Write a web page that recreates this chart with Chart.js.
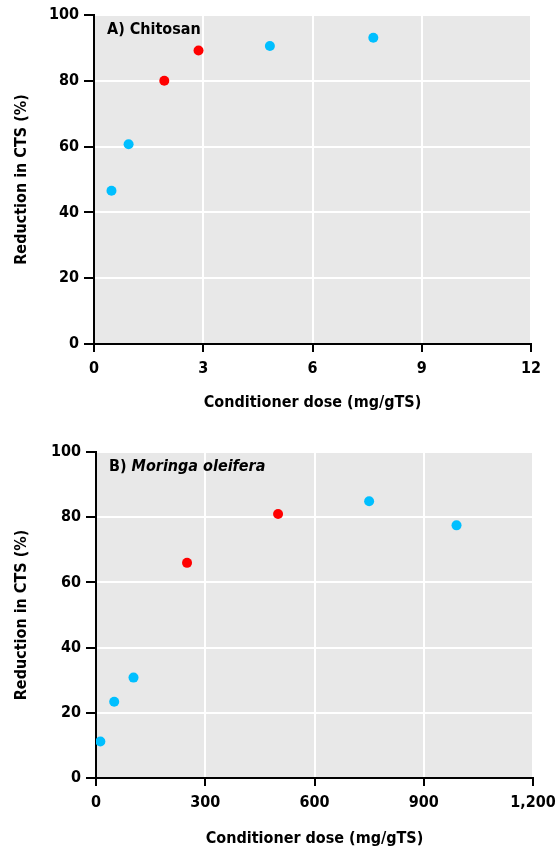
<!DOCTYPE html>
<html>
<head>
<meta charset="utf-8">
<script src="https://cdn.jsdelivr.net/npm/chart.js@4.4.0/dist/chart.umd.min.js"></script>
<style>
  html, body { margin: 0; padding: 0; background: #fff; }
  #wrapA { position: absolute; left: 0; top: 0; width: 558px; height: 420px; }
  #wrapB { position: absolute; left: 0; top: 437px; width: 558px; height: 413px; }
</style>
</head>
<body>
<div id="wrapA"><canvas id="chartA"></canvas></div>
<div id="wrapB"><canvas id="chartB"></canvas></div>
<script>
// Panel A: Chitosan
const chitosanDose = [0.48, 0.95, 1.93, 2.87, 4.83, 7.67];
const chitosanReduction = [46.6, 60.7, 80.0, 89.2, 90.6, 93.1];
const chitosanColors = ['#00bfff', '#00bfff', '#ff0000', '#ff0000', '#00bfff', '#00bfff'];
const chitosanXTicks = [0, 3, 6, 9, 12];

// Panel B: Moringa oleifera
const moringaDose = [12, 50, 103, 250, 500, 750, 990];
const moringaReduction = [11.2, 23.4, 30.8, 66.0, 81.0, 84.9, 77.5];
const moringaColors = ['#00bfff', '#00bfff', '#00bfff', '#ff0000', '#ff0000', '#00bfff', '#00bfff'];
const moringaXTicks = [0, 300, 600, 900, 1200];

const yTicks = [0, 20, 40, 60, 80, 100];
const xTitle = 'Conditioner dose (mg/gTS)';
const yTitle = 'Reduction in CTS (%)';

const FONT = '"DejaVu Sans Condensed", "DejaVu Sans", sans-serif';

const bgPlugin = {
  id: 'plotBg',
  beforeDraw(chart) {
    const { ctx, chartArea: a } = chart;
    ctx.save();
    ctx.fillStyle = '#e8e8e8';
    ctx.fillRect(a.left, a.top, a.right - a.left, a.bottom - a.top);
    ctx.restore();
  }
};

function labelPlugin(parts) {
  return {
    id: 'panelLabel',
    afterDraw(chart) {
      const { ctx, chartArea: a } = chart;
      ctx.save();
      ctx.fillStyle = '#000';
      ctx.textBaseline = 'middle';
      let x = a.left + 13;
      const y = a.top + 15;
      parts.forEach(p => {
        ctx.font = (p.italic ? 'italic ' : '') + 'bold 16px ' + FONT;
        ctx.fillText(p.text, x, y);
        x += ctx.measureText(p.text).width;
      });
      ctx.restore();
    }
  };
}

function makeChart(id, xs, ys, colors, xTicks, parts, yAxisWidth, xAxisHeight, xTitlePadBottom, rightPad) {
  const points = xs.map((x, i) => ({ x, y: ys[i] }));
  return new Chart(document.getElementById(id), {
    type: 'scatter',
    data: {
      datasets: [{
        data: points,
        pointBackgroundColor: colors,
        pointBorderWidth: 0,
        pointRadius: 5,
        pointHoverRadius: 5
      }]
    },
    options: {
      responsive: true,
      maintainAspectRatio: false,
      animation: false,
      events: [],
      layout: { padding: { top: 15, right: rightPad, left: 0, bottom: 0 } },
      plugins: { legend: { display: false }, tooltip: { enabled: false } },
      scales: {
        x: {
          type: 'linear',
          min: xTicks[0],
          max: xTicks[xTicks.length - 1],
          afterFit(scale) {
            scale.height = xAxisHeight;
            scale.paddingLeft = 0;
            scale.paddingRight = 0;
          },
          afterBuildTicks(scale) { scale.ticks = xTicks.map(v => ({ value: v })); },
          ticks: {
            color: '#000',
            font: { family: FONT, weight: 'bold', size: 16 },
            padding: 7,
            maxRotation: 0,
            callback: v => v.toLocaleString('en-US')
          },
          grid: {
            color: '#ffffff',
            lineWidth: 2,
            tickColor: '#000',
            tickLength: 8,
            tickWidth: 2
          },
          border: { color: '#000', width: 2 },
          title: {
            display: true,
            text: xTitle,
            color: '#000',
            font: { family: FONT, weight: 'bold', size: 16 },
            padding: { top: 0, bottom: xTitlePadBottom }
          }
        },
        y: {
          type: 'linear',
          min: 0,
          max: 100,
          afterFit(scale) { scale.width = yAxisWidth; },
          afterBuildTicks(scale) { scale.ticks = yTicks.map(v => ({ value: v })); },
          ticks: {
            color: '#000',
            font: { family: FONT, weight: 'bold', size: 16 },
            padding: 5
          },
          grid: {
            color: '#ffffff',
            lineWidth: 2,
            tickColor: '#000',
            tickLength: 10,
            tickWidth: 2
          },
          border: { color: '#000', width: 2 },
          title: {
            display: true,
            text: yTitle,
            color: '#000',
            font: { family: FONT, weight: 'bold', size: 16 },
            padding: { top: 12, bottom: 0 }
          }
        }
      }
    },
    plugins: [bgPlugin, labelPlugin(parts)]
  });
}

makeChart('chartA', chitosanDose, chitosanReduction, chitosanColors, chitosanXTicks,
  [{ text: 'A) Chitosan' }], 94, 76, 8, 27);
makeChart('chartB', moringaDose, moringaReduction, moringaColors, moringaXTicks,
  [{ text: 'B) ' }, { text: 'Moringa oleifera', italic: true }], 96, 72, 2, 25);
</script>
</body>
</html>
